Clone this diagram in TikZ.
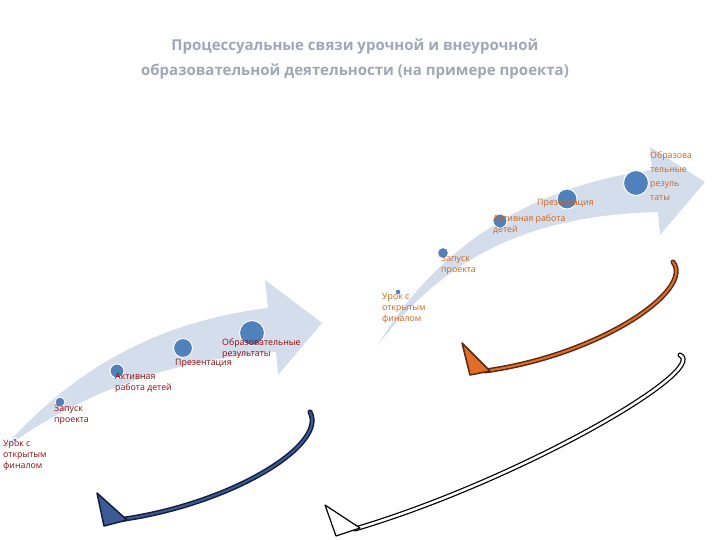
\documentclass[tikz,border=0pt]{standalone}
\usepackage{fontspec}
\setmainfont{Open Sans}
\begin{document}
\begin{tikzpicture}[x=1pt,y=-1pt,
  dot/.style={circle,fill=dotblue,draw=white,line width=1pt,inner sep=0pt},
  lowlab/.style={anchor=north west,align=left,inner sep=0pt,font=\fontsize{8.8}{11}\selectfont,text=labred},
  uplab/.style={anchor=north west,align=left,inner sep=0pt,font=\fontsize{8.8}{11}\selectfont,text=laborange}]
\definecolor{swoosh}{RGB}{212,221,236}
\definecolor{dotblue}{RGB}{79,129,189}
\definecolor{labred}{RGB}{150,10,10}
\definecolor{laborange}{RGB}{205,100,30}
\definecolor{navy}{RGB}{20,30,60}
\definecolor{midblue}{RGB}{60,90,150}
\definecolor{brown}{RGB}{90,40,20}
\definecolor{orng}{RGB}{225,110,40}
\definecolor{titlegray}{RGB}{160,168,180}
\useasboundingbox (0,0) rectangle (720,540);
\fill[white] (0,0) rectangle (720,540);
\node[font=\bfseries\fontsize{15}{25}\selectfont,text=titlegray,align=center] (title) at (355,59)
 {Процессуальные связи урочной и внеурочной\\образовательной деятельности (на примере проекта)};
% lower swoosh
\fill[swoosh] (2,450) .. controls (80,360) and (170,320) .. (268,308) -- (265,280) -- (322,323) -- (278,375) -- (276,352)
  .. controls (160,360) and (70,400) .. (2,450) -- cycle;
% upper swoosh
\fill[swoosh] (378,345) .. controls (440,240) and (540,185) .. (652,170) -- (650,147) -- (705,182) -- (660,235) -- (658,212)
  .. controls (540,215) and (450,250) .. (378,345) -- cycle;
% lower dots
\node[dot,minimum size=4pt] (l1) at (15,440) {};
\node[dot,minimum size=10pt] (l2) at (60,402) {};
\node[dot,minimum size=14pt] (l3) at (117,371) {};
\node[dot,minimum size=19pt] (l4) at (183,348) {};
\node[dot,minimum size=25pt] (l5) at (252,333) {};
\node[lowlab] (t1) at (3,440) {Урок с\\открытым\\финалом};
\node[lowlab] (t2) at (54,405) {Запуск\\проекта};
\node[lowlab] (t3) at (115,373) {Активная\\работа детей};
\node[lowlab] (t4) at (175,359) {Презентация};
\node[lowlab] (t5) at (222,339) {Образовательные\\результаты};
% upper dots
\node[dot,minimum size=6pt] (u1) at (398,292) {};
\node[dot,minimum size=11pt] (u2) at (443,253) {};
\node[dot,minimum size=14pt] (u3) at (500,221) {};
\node[dot,minimum size=20pt] (u4) at (567,199) {};
\node[dot,minimum size=25pt] (u5) at (636,183) {};
\node[uplab] (s1) at (382,293) {Урок с\\открытым\\финалом};
\node[uplab] (s2) at (441,255) {Запуск\\проекта};
\node[uplab] (s3) at (493,215) {Активная работа\\детей};
\node[uplab] (s4) at (537,199) {Презентация};
\node[uplab,font=\fontsize{8.8}{14}\selectfont] (s5) at (650,152) {Образова\\тельные\\резуль\\таты};
% navy curved arrow
\coordinate (na) at (310,412); \coordinate (nb) at (118,520);
\draw[navy,line width=5pt,line cap=round] (na) .. controls (328,445) and (230,505) .. (nb);
\draw[midblue,line width=2pt,line cap=round] (na) .. controls (328,445) and (230,505) .. (nb);
\filldraw[fill=midblue,draw=navy,line width=1.5pt,line join=round] (97,493) -- (127,520) -- (104,526) -- cycle;
% orange curved arrow
\coordinate (oa) at (673,262); \coordinate (ob) at (485,371);
\draw[brown,line width=5pt,line cap=round] (oa) .. controls (695,290) and (600,355) .. (ob);
\draw[orng,line width=2pt,line cap=round] (oa) .. controls (695,290) and (600,355) .. (ob);
\filldraw[fill=orng,draw=brown,line width=1.5pt,line join=round] (462,343) -- (490,371) -- (470,375) -- cycle;
% white outlined arrow
\coordinate (wa) at (680,355); \coordinate (wb) at (355,529);
\draw[black,line width=5pt,line cap=round] (wa) .. controls (710,370) and (520,480) .. (wb);
\draw[white,line width=2.5pt,line cap=round] (wa) .. controls (710,370) and (520,480) .. (wb);
\filldraw[fill=white,draw=black,line width=1.2pt,line join=round] (325,505) -- (360,528) -- (336,536) -- cycle;
\end{tikzpicture}
\end{document}
